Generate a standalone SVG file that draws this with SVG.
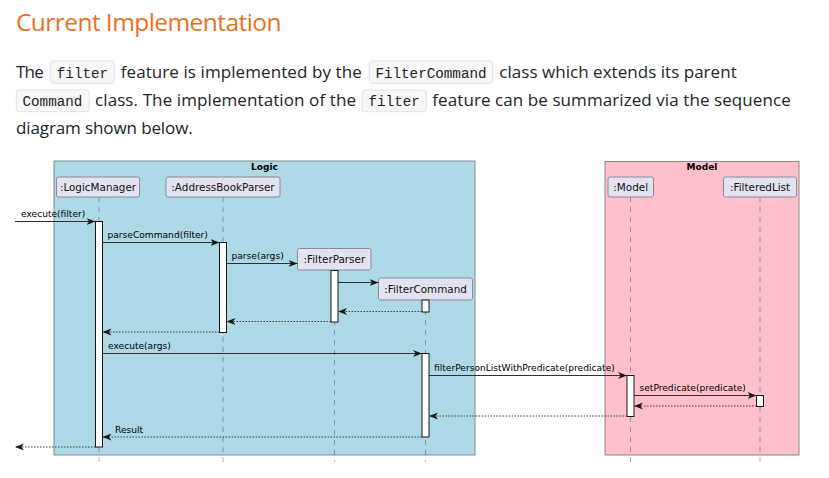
<svg xmlns="http://www.w3.org/2000/svg" width="829" height="478" viewBox="0 0 829 478">
<style>
.title{font-family:"Open Sans","Noto Sans",sans-serif;font-size:24.5px;fill:#e8711f;}
.p{font-family:"Open Sans","Noto Sans",sans-serif;font-size:17px;fill:#212529;}
.code{font-family:"Liberation Mono",monospace;font-size:14.25px;fill:#222;}
.cbox{fill:#f8f8f8;stroke:#e2e2e2;stroke-width:1;}
.frameL{fill:#ADD8E6;stroke:#7f8c90;stroke-width:1;}
.frameM{fill:#FFC0CB;stroke:#8e8386;stroke-width:1;}
.ftitle{font-family:"DejaVu Sans",sans-serif;font-size:9px;font-weight:bold;fill:#000;text-anchor:middle;}
.part rect{fill:#E2E2F0;stroke:#8a8a96;stroke-width:1;}
.part text{font-family:"DejaVu Sans",sans-serif;font-size:10.4px;fill:#111;text-anchor:middle;}
.life{stroke:#000;stroke-opacity:0.3;stroke-width:1;stroke-dasharray:5,5;fill:none;}
.act{fill:#fff;stroke:#181818;stroke-width:1;}
.call{stroke:#303030;stroke-width:1;fill:none;marker-end:url(#ah);}
.ret{stroke:#404040;stroke-width:1;fill:none;stroke-dasharray:1.5,1.5;marker-end:url(#ah);}
.msg{font-family:"DejaVu Sans",sans-serif;font-size:9.1px;fill:#000;}
</style>
<defs>
<marker id="ah" markerWidth="9" markerHeight="8" refX="9" refY="4" orient="auto" markerUnits="userSpaceOnUse">
<path d="M0,0.5 L9,4 L0,7.5 L2.5,4 Z" fill="#181818"/>
</marker>
</defs>
<rect x="0" y="0" width="829" height="478" fill="#fff"/>

<g id="text">
<text class="title" x="16" y="30.5" textLength="265.5">Current Implementation</text>
<text class="p" x="16" y="77.5" textLength="27.7">The</text>
<rect class="cbox" x="50.7" y="61" width="63.6" height="22.3" rx="3"/>
<text class="code" x="56.8" y="77.5">filter</text>
<text class="p" x="120.7" y="77.5" textLength="241">feature is implemented by the</text>
<rect class="cbox" x="369.3" y="61" width="123.4" height="22.3" rx="3"/>
<text class="code" x="375.4" y="77.5">FilterCommand</text>
<text class="p" x="499.3" y="77.5" textLength="237.4">class which extends its parent</text>
<rect class="cbox" x="16.3" y="90" width="73" height="21.7" rx="3"/>
<text class="code" x="22.5" y="106">Command</text>
<text class="p" x="95" y="106" textLength="261">class. The implementation of the</text>
<rect class="cbox" x="362.3" y="90" width="64" height="21.7" rx="3"/>
<text class="code" x="368.5" y="106">filter</text>
<text class="p" x="432.3" y="106" textLength="358.4">feature can be summarized via the sequence</text>
<text class="p" x="16" y="133.5" textLength="176.7">diagram shown below.</text>
</g>

<g id="box-logic">
<rect class="frameL" x="54" y="161" width="421" height="294"/>
<text class="ftitle" x="264.5" y="169.5">Logic</text>
</g>
<g id="box-model">
<rect class="frameM" x="605" y="161.5" width="194" height="293.5"/>
<text class="ftitle" x="702" y="169.5">Model</text>
</g>

<g id="lifelines">
<line class="life" x1="99" y1="197" x2="99" y2="462"/>
<line class="life" x1="223" y1="197" x2="223" y2="462"/>
<line class="life" x1="334.5" y1="270" x2="334.5" y2="462"/>
<line class="life" x1="425.5" y1="300" x2="425.5" y2="462"/>
<line class="life" x1="630.5" y1="197" x2="630.5" y2="462"/>
<line class="life" x1="760" y1="197" x2="760" y2="462"/>
</g>

<g id="LogicManager" class="part">
<rect x="56.5" y="177" width="83" height="20" rx="2"/>
<text x="98" y="190.5">:LogicManager</text>
</g>
<g id="AddressBookParser" class="part">
<rect x="166" y="177" width="114" height="20" rx="2"/>
<text x="223" y="190.5">:AddressBookParser</text>
</g>
<g id="FilterParser" class="part">
<rect x="297.5" y="248.5" width="73.5" height="21.5" rx="2"/>
<text x="334.3" y="263">:FilterParser</text>
</g>
<g id="FilterCommand" class="part">
<rect x="378.5" y="278" width="94" height="22" rx="2"/>
<text x="425.5" y="292.8">:FilterCommand</text>
</g>
<g id="Model" class="part">
<rect x="608" y="177" width="45.5" height="20" rx="2"/>
<text x="630.7" y="190.5">:Model</text>
</g>
<g id="FilteredList" class="part">
<rect x="723.5" y="177" width="73" height="20" rx="2"/>
<text x="760" y="190.5">:FilteredList</text>
</g>

<g id="activations">
<rect class="act" x="95.5" y="221.5" width="7" height="225.5"/>
<rect class="act" x="219.5" y="242.5" width="7" height="90"/>
<rect class="act" x="331" y="270.5" width="7" height="51.5"/>
<rect class="act" x="422" y="300" width="7" height="12"/>
<rect class="act" x="422" y="353.5" width="7" height="83.5"/>
<rect class="act" x="627" y="375.5" width="7" height="41"/>
<rect class="act" x="756.5" y="395.5" width="7" height="11"/>
</g>

<g id="connectors">
<line class="call" x1="15" y1="221.5" x2="95.5" y2="221.5"/>
<text class="msg" x="21" y="217">execute(filter)</text>
<line class="call" x1="102.5" y1="242.5" x2="219.5" y2="242.5"/>
<text class="msg" x="107.5" y="238">parseCommand(filter)</text>
<line class="call" x1="226.5" y1="263.5" x2="297.5" y2="263.5"/>
<text class="msg" x="231.5" y="259">parse(args)</text>
<line class="call" x1="338" y1="282.5" x2="378.5" y2="282.5"/>
<line class="ret" x1="422" y1="311.5" x2="338" y2="311.5"/>
<line class="ret" x1="331" y1="321.5" x2="226.5" y2="321.5"/>
<line class="ret" x1="219.5" y1="332" x2="102.5" y2="332"/>
<line class="call" x1="102.5" y1="353.5" x2="422" y2="353.5"/>
<text class="msg" x="108" y="349">execute(args)</text>
<line class="call" x1="429" y1="375.5" x2="627" y2="375.5"/>
<text class="msg" x="434" y="371">filterPersonListWithPredicate(predicate)</text>
<line class="call" x1="634" y1="395.5" x2="756.5" y2="395.5"/>
<text class="msg" x="639.5" y="391">setPredicate(predicate)</text>
<line class="ret" x1="756.5" y1="406" x2="634" y2="406"/>
<line class="ret" x1="627" y1="416" x2="429" y2="416"/>
<line class="ret" x1="422" y1="437" x2="102.5" y2="437"/>
<text class="msg" x="115" y="433">Result</text>
<line class="ret" x1="95.5" y1="447" x2="15" y2="447"/>
</g>
</svg>
